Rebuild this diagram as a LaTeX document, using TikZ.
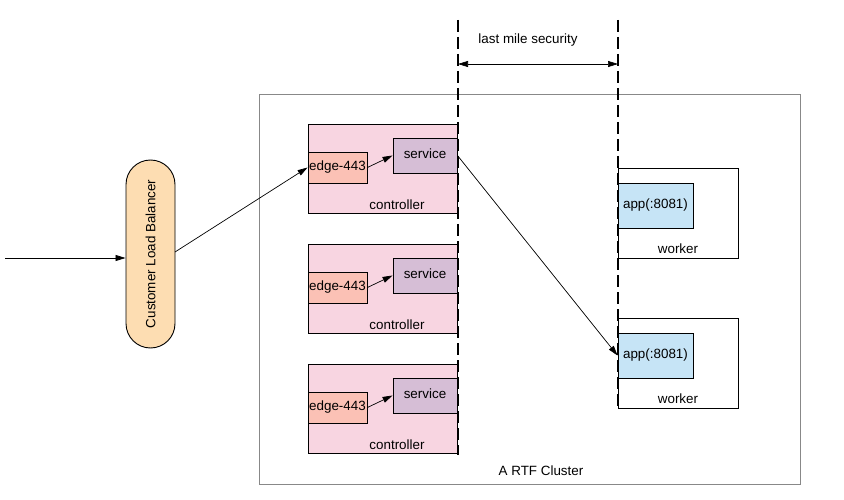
\documentclass[tikz,border=0pt]{standalone}
\usepackage{fontspec}
\setmainfont{Liberation Sans}
\usetikzlibrary{arrows.meta,shapes.misc}
\definecolor{ctrlpink}{HTML}{F8D5E1}
\definecolor{edgesalmon}{HTML}{FBC1B5}
\definecolor{svcpurple}{HTML}{D6BED6}
\definecolor{appblue}{HTML}{C6E4F6}
\definecolor{lborange}{HTML}{FDDDB2}
\definecolor{clustergray}{HTML}{888888}
\begin{document}
\begin{tikzpicture}[x=1pt,y=-1pt,
  every node/.style={font=\fontsize{13.4}{15}\selectfont, inner sep=0pt},
  box/.style={draw=black, line width=0.9pt},
  ctrlbox/.style={box, fill=ctrlpink},
  edgebox/.style={box, fill=edgesalmon},
  svcbox/.style={box, fill=svcpurple},
  appbox/.style={box, fill=appblue},
  workerbox/.style={box, fill=white},
  conn/.style={draw=black, line width=0.7pt, -{Triangle[length=10pt,width=6pt]}},
  dashv/.style={draw=black, line width=1.4pt, dash pattern=on 12pt off 5pt},
  lbl/.style={anchor=center}
]
\useasboundingbox (0,0) rectangle (844,500);
% cluster
\draw[draw=clustergray, line width=0.8pt] (259,94) rectangle (800,484);
\node[lbl] (clusterlbl) at (541,471) {A RTF Cluster};

% controllers
\foreach \i/\dy in {1/0,2/120,3/240}{
  \draw[ctrlbox] (308,124+\dy) rectangle (457,213+\dy);
  \node[lbl] (ctrl\i) at (397,205+\dy) {controller};
  \node[edgebox, minimum width=59pt, minimum height=31pt] (edge\i) at (337.5,167.5+\dy) {edge-443};
  \node[svcbox, minimum width=64pt, minimum height=35pt] (svc\i) at (425,155.5+\dy) {\raisebox{4pt}{service}};
}
% workers
\foreach \i/\dy in {1/0,2/150}{
  \draw[workerbox] (618,168+\dy) rectangle (738,258+\dy);
  \node[lbl] (wk\i) at (678,249+\dy) {worker};
  \node[appbox, minimum width=75pt, minimum height=45pt] (app\i) at (655.5,205.5+\dy) {\raisebox{2pt}{app(:8081)}};
}

% dashed lines
\coordinate (d1top) at (458,20);
\coordinate (d1bot) at (458,455);
\coordinate (d2top) at (618,20);
\coordinate (d2bot) at (618,410);
\draw[dashv] (d1top) -- (d1bot);
\draw[dashv] (d2top) -- (d2bot);
\coordinate (sa) at (458,64);
\coordinate (sb) at (618,64);
\draw[draw=black, line width=0.7pt, {Triangle[length=10pt,width=6pt]}-{Triangle[length=10pt,width=6pt]}] (sa) -- (sb);
\node[lbl] (lms) at (528,40) {last mile security};

% load balancer
\node[draw=black, line width=0.9pt, fill=lborange, rounded rectangle, rounded rectangle arc length=180,
  minimum width=188pt, minimum height=49pt, rotate=90] (lb) at (150.5,254) {Customer Load Balancer};

\coordinate (in) at (5,258);
\draw[conn] (in) -- (lb.north |- in);
\draw[conn] (175,252) -- (edge1.west);
\foreach \i in {1,2,3}{
  \draw[conn] (edge\i.east) -- (svc\i.west);
}
\draw[conn] (svc1.east) -- (app2.west);
\end{tikzpicture}
\end{document}
